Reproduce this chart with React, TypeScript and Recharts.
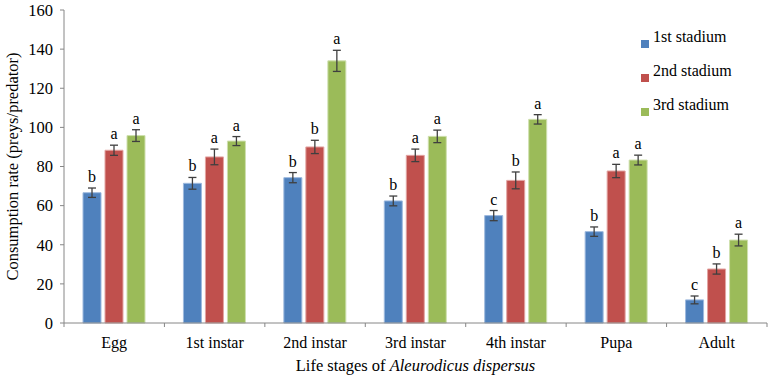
import React from "react";
import {
  BarChart,
  Bar,
  XAxis,
  YAxis,
  ErrorBar,
  LabelList,
} from "recharts";

const STAGES = ["Egg", "1st instar", "2nd instar", "3rd instar", "4th instar", "Pupa", "Adult"];

const STADIUM_1 = [66.6, 71.4, 74.3, 62.4, 54.9, 46.7, 11.8];
const STADIUM_2 = [88.3, 84.9, 90.0, 85.7, 72.9, 77.7, 27.6];
const STADIUM_3 = [95.8, 93.0, 134.0, 95.4, 104.1, 83.3, 42.4];

const ERR_1 = [2.4, 3.0, 2.6, 2.5, 2.6, 2.4, 2.0];
const ERR_2 = [2.6, 4.0, 3.4, 3.2, 4.3, 3.4, 2.6];
const ERR_3 = [3.0, 2.3, 5.4, 3.2, 2.4, 2.5, 3.0];

const LETTERS_1 = ["b", "b", "b", "b", "c", "b", "c"];
const LETTERS_2 = ["a", "a", "b", "a", "b", "a", "b"];
const LETTERS_3 = ["a", "a", "a", "a", "a", "a", "a"];

const Y_TICKS = [0, 20, 40, 60, 80, 100, 120, 140, 160];
const Y_MINOR_TICKS = Array.from({ length: 41 }, (_, i) => i * 4);

const SERIES = [
  { key: "s1", err: "e1", name: "1st stadium", color: "#4F81BD", edge: "#9DB9DE", letters: LETTERS_1, errs: ERR_1 },
  { key: "s2", err: "e2", name: "2nd stadium", color: "#C0504D", edge: "#E3A5A3", letters: LETTERS_2, errs: ERR_2 },
  { key: "s3", err: "e3", name: "3rd stadium", color: "#9BBB59", edge: "#CFE0AE", letters: LETTERS_3, errs: ERR_3 },
];

const data = STAGES.map((stage, i) => ({
  stage,
  s1: STADIUM_1[i],
  s2: STADIUM_2[i],
  s3: STADIUM_3[i],
  e1: ERR_1[i],
  e2: ERR_2[i],
  e3: ERR_3[i],
}));

const FONT =
  "'Liberation Serif', 'Times New Roman', Times, Tinos, 'Noto Serif', 'DejaVu Serif', FreeSerif, serif";
const AXIS = "#868686";

function letterLabel(letters: string[], errs: number[]) {
  return (props: any) => {
    const vb = props.viewBox ?? props;
    const { x, y, width, height } = vb;
    const idx = props.index;
    const value = Number(props.value);
    if (idx == null || !value) return null;
    const pxPerUnit = height / value;
    const errTop = y - errs[idx] * pxPerUnit;
    return (
      <text
        x={x + width / 2}
        y={errTop - 6}
        textAnchor="middle"
        style={{ fontFamily: FONT }}
        fontSize={16}
        fill="#000"
      >
        {letters[idx]}
      </text>
    );
  };
}

function StageTick(props: any) {
  const { x, y, payload, index } = props;
  const half = payload.offset ?? 0;
  const isLast = index === STAGES.length - 1;
  return (
    <g>
      <line x1={x - half} y1={y - 8} x2={x - half} y2={y - 4} stroke={AXIS} />
      {isLast && <line x1={x + half} y1={y - 8} x2={x + half} y2={y - 4} stroke={AXIS} />}
      <text x={x} y={y + 17} textAnchor="middle" style={{ fontFamily: FONT }} fontSize={16} fill="#000">
        {payload.value}
      </text>
    </g>
  );
}

function StadiumLegend() {
  return (
    <div style={{ position: "absolute", left: 641, top: 27, fontFamily: FONT, fontSize: 16 }}>
      {SERIES.map((s) => (
        <div key={s.key} style={{ display: "flex", alignItems: "center", height: 34 }}>
          <span style={{ width: 8, height: 8, background: s.color, display: "inline-block", marginRight: 4 }} />
          <span style={{ lineHeight: "20px", marginTop: -14 }}>{s.name}</span>
        </div>
      ))}
    </div>
  );
}

export default function App() {
  return (
    <div style={{ position: "absolute", left: 0, top: 0, width: 770, height: 376, background: "#fff" }}>
      <BarChart
        width={770}
        height={376}
        data={data}
        margin={{ top: 10, right: 3, left: 20, bottom: 0 }}
        barGap={4}
        barSize={18}
        style={{ fontFamily: FONT }}
      >
        <XAxis
          dataKey="stage"
          xAxisId={0}
          height={53}
          axisLine={{ stroke: AXIS }}
          tickLine={false}
          tick={<StageTick />}
          interval={0}
          label={(p: any) => {
            const vb = p.viewBox;
            return (
              <text
                x={vb.x + vb.width / 2}
                y={vb.y + 48}
                textAnchor="middle"
                style={{ fontFamily: FONT }}
                fontSize={16.5}
                fill="#000"
              >
                Life stages of <tspan fontStyle="italic">Aleurodicus dispersus</tspan>
              </text>
            );
          }}
        />
        <XAxis
          xAxisId="top"
          orientation="top"
          dataKey="stage"
          height={0}
          axisLine={{ stroke: AXIS }}
          tick={false}
          tickLine={false}
        />
        <YAxis
          yAxisId={0}
          width={44}
          domain={[0, 160]}
          ticks={Y_TICKS}
          interval={0}
          axisLine={{ stroke: AXIS }}
          tickLine={{ stroke: AXIS }}
          tickSize={4}
          tickMargin={7}
          tick={{ style: { fontFamily: FONT }, fontSize: 16.5, fill: "#000" }}
          label={{
            value: "Consumption rate (preys/predator)",
            angle: -90,
            position: "insideLeft",
            offset: -8,
            style: { textAnchor: "middle", fontFamily: FONT, fontSize: 16.5, fill: "#000" },
          }}
        />
        <YAxis
          yAxisId="minor"
          width={0}
          domain={[0, 160]}
          ticks={Y_MINOR_TICKS}
          interval={0}
          axisLine={false}
          tickLine={{ stroke: AXIS }}
          tickSize={4}
          tick={false}
        />
        <YAxis
          yAxisId="right"
          orientation="right"
          width={0}
          domain={[0, 160]}
          axisLine={{ stroke: AXIS }}
          tick={false}
          tickLine={false}
        />
        {SERIES.map((s) => (
          <Bar
            key={s.key}
            dataKey={s.key}
            name={s.name}
            fill={s.color}
            stroke={s.edge}
            strokeWidth={1}
            isAnimationActive={false}
          >
            <ErrorBar dataKey={s.err} width={4} stroke="#3F3F3F" strokeWidth={1.3} direction="y" />
            <LabelList dataKey={s.key} content={letterLabel(s.letters, s.errs)} />
          </Bar>
        ))}
      </BarChart>
      <StadiumLegend />
    </div>
  );
}
